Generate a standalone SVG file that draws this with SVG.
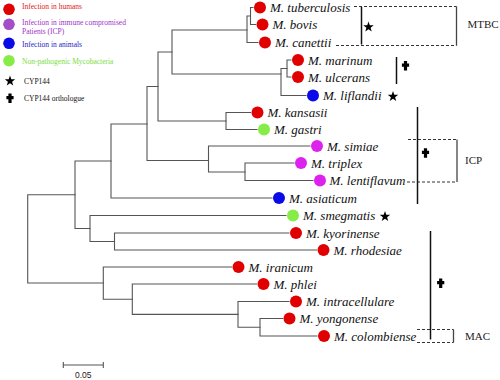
<svg xmlns="http://www.w3.org/2000/svg" xmlns:xlink="http://www.w3.org/1999/xlink" width="500" height="380" viewBox="0 0 500 380">
<style>
.br{stroke:#555;stroke-width:1.1;fill:none;stroke-linecap:square}
.sp{font-family:"Liberation Serif","Times New Roman",serif;font-style:italic;font-size:13px;fill:#111}
.lg{font-family:"Liberation Serif","Times New Roman",serif;font-size:7.5px}
.cl{font-family:"Liberation Serif","Times New Roman",serif;font-size:11px;fill:#222}
.dash{stroke:#333;stroke-width:1.2;stroke-dasharray:3,2;fill:none}
.side{stroke:#444;stroke-width:1.3;fill:none}
.mark{stroke:#111;stroke-width:1.5;fill:none}
.red{fill:#e00000}.blu{fill:#0a0ae8}.grn{fill:#86ec48}.mag{fill:#dd22ee}.pur{fill:#a44ec8}
</style>
<defs>
<polygon id="star" points="0,-5.5 1.29,-1.78 5.23,-1.7 2.09,0.68 3.23,4.45 0,2.2 -3.23,4.45 -2.09,0.68 -5.23,-1.7 -1.29,-1.78" fill="#000"/>
<path id="cross" d="M-1.6,-4.8H1.6V-2.3H3.6V0.9H1.6V4.8H-1.6V0.9H-3.6V-2.3H-1.6Z" fill="#000"/>
</defs>

<g id="legend">
<circle class="red" cx="9" cy="9.3" r="5.8"/>
<text class="lg" x="22" y="9" fill="#e02020">Infection in humans</text>
<circle class="pur" cx="9" cy="24.3" r="5.8"/>
<text class="lg" x="22" y="24.5" fill="#a033c8">Infection in immune compromised</text>
<text class="lg" x="22" y="33.5" fill="#a033c8">Patients (ICP)</text>
<circle class="blu" cx="9" cy="43.3" r="5.8"/>
<text class="lg" x="22" y="46.5" fill="#2323c8">Infection in animals</text>
<circle class="grn" cx="9" cy="60.7" r="5.8"/>
<text class="lg" x="22" y="64" fill="#78e040">Non-pathogenic Mycobacteria</text>
<use xlink:href="#star" href="#star" x="10" y="81"/>
<text class="lg" x="24" y="84" fill="#111">CYP144</text>
<use xlink:href="#cross" href="#cross" x="10" y="98.3"/>
<text class="lg" x="24" y="100.5" fill="#111">CYP144 orthologue</text>
</g>

<g id="connectors">
<path class="br" d="M250.5,7.5V24.5M250.5,7.5H253M250.5,24.5H255.5"/>
<path class="br" d="M247,16V42.5M247,16H250.5M247,42.5H258"/>
<path class="br" d="M287,60V77M287,60H291M287,77H291"/>
<path class="br" d="M281,68.5V95.5M281,68.5H287M281,95.5H306"/>
<path class="br" d="M172,30V74M172,30H247M172,74H281"/>
<path class="br" d="M226,112.5V129.5M226,112.5H250.5M226,129.5H257"/>
<path class="br" d="M158,52V121M158,52H172M158,121H226"/>
<path class="br" d="M245,163V180.5M245,163H294M245,180.5H313"/>
<path class="br" d="M208.5,146V172M208.5,146H310M208.5,172H245"/>
<path class="br" d="M147,86.5V160.5M147,86.5H158M147,160.5H208.5"/>
<path class="br" d="M111,124V198M111,124H147M111,198H272"/>
<path class="br" d="M114.5,233V250M114.5,233H289M114.5,250H316.5"/>
<path class="br" d="M90,215.5V241.5M90,215.5H286M90,241.5H114.5"/>
<path class="br" d="M75,161V228.5M75,161H111M75,228.5H90"/>
<path class="br" d="M260,318.5V336M260,318.5H282.5M260,336H317"/>
<path class="br" d="M238,301.5V327.3M238,301.5H289M238,327.3H260"/>
<path class="br" d="M132.3,284V314.4M132.3,284H256.5M132.3,314.4H238"/>
<path class="br" d="M103.3,267V299.2M103.3,267H231.5M103.3,299.2H132.3"/>
<path class="br" d="M27.7,194.8V283M27.7,194.8H75M27.7,283H103.3"/>
</g>

<g id="n-tuberculosis"><circle class="red" cx="260" cy="7.5" r="6"/><text class="sp" x="270" y="12">M. tuberculosis</text></g>
<g id="n-bovis"><circle class="red" cx="262.5" cy="24.5" r="6"/><text class="sp" x="272.5" y="29">M. bovis</text></g>
<g id="n-canettii"><circle class="red" cx="265" cy="42.5" r="6"/><text class="sp" x="275" y="47">M. canettii</text></g>
<g id="n-marinum"><circle class="red" cx="298" cy="60" r="6"/><text class="sp" x="308" y="64.5">M. marinum</text></g>
<g id="n-ulcerans"><circle class="red" cx="298" cy="77" r="6"/><text class="sp" x="308" y="81.5">M. ulcerans</text></g>
<g id="n-liflandii"><circle class="blu" cx="313" cy="95.5" r="6"/><text class="sp" x="323" y="100">M. liflandii</text><use xlink:href="#star" href="#star" x="393" y="96.5"/></g>
<g id="n-kansasii"><circle class="red" cx="257.5" cy="112.5" r="6"/><text class="sp" x="267.5" y="117">M. kansasii</text></g>
<g id="n-gastri"><circle class="grn" cx="264" cy="129.5" r="6"/><text class="sp" x="274" y="134">M. gastri</text></g>
<g id="n-simiae"><circle class="mag" cx="317" cy="146" r="6"/><text class="sp" x="327" y="150.5">M. simiae</text></g>
<g id="n-triplex"><circle class="mag" cx="301" cy="163" r="6"/><text class="sp" x="311" y="167.5">M. triplex</text></g>
<g id="n-lentiflavum"><circle class="mag" cx="320" cy="180.5" r="6"/><text class="sp" x="329.5" y="185">M. lentiflavum</text></g>
<g id="n-asiaticum"><circle class="blu" cx="279" cy="198" r="6"/><text class="sp" x="289" y="202.5">M. asiaticum</text></g>
<g id="n-smegmatis"><circle class="grn" cx="293" cy="215.5" r="6"/><text class="sp" x="303" y="220">M. smegmatis</text><use xlink:href="#star" href="#star" x="385" y="216.5"/></g>
<g id="n-kyorinense"><circle class="red" cx="296" cy="233" r="6"/><text class="sp" x="306" y="237.5">M. kyorinense</text></g>
<g id="n-rhodesiae"><circle class="red" cx="323.5" cy="250" r="6"/><text class="sp" x="333.5" y="254.5">M. rhodesiae</text></g>
<g id="n-iranicum"><circle class="red" cx="238.5" cy="267" r="6"/><text class="sp" x="248.5" y="271.5">M. iranicum</text></g>
<g id="n-phlei"><circle class="red" cx="263.5" cy="284" r="6"/><text class="sp" x="273.5" y="288.5">M. phlei</text></g>
<g id="n-intracellulare"><circle class="red" cx="296" cy="301.5" r="6"/><text class="sp" x="306" y="306">M. intracellulare</text></g>
<g id="n-yongonense"><circle class="red" cx="289.5" cy="318.5" r="6"/><text class="sp" x="299.5" y="323">M. yongonense</text></g>
<g id="n-colombiense"><circle class="red" cx="324" cy="336" r="6"/><text class="sp" x="334" y="340.5">M. colombiense</text></g>

<g id="MTBC">
<path class="dash" d="M354,6.5H456.5M336,45.5H456.5"/>
<path class="side" d="M456.5,6.5V45.5"/>
<path class="mark" d="M361.5,7V44.5"/>
<use xlink:href="#star" href="#star" x="368.5" y="27"/>
<text class="cl" x="467.5" y="28">MTBC</text>
</g>
<g id="marinum-group">
<path class="mark" d="M396.5,57V84"/>
<use xlink:href="#cross" href="#cross" x="405.5" y="65.8"/>
</g>
<g id="ICP">
<path class="dash" d="M408,139.5H457M407,182H457"/>
<path class="side" d="M457,139.5V182"/>
<path class="mark" d="M417.5,107V204"/>
<use xlink:href="#cross" href="#cross" x="425.5" y="153"/>
<text class="cl" x="465" y="163.5">ICP</text>
</g>
<g id="MAC">
<path class="dash" d="M417,329.5H453.5M417,342.5H453.5"/>
<path class="side" d="M453.5,329.5V342.5"/>
<path class="mark" d="M430.5,231V339.5"/>
<use xlink:href="#cross" href="#cross" x="440.7" y="283.3"/>
<text class="cl" x="465" y="339.5">MAC</text>
</g>

<g id="scalebar">
<path class="br" d="M63.3,365H103.3M63.3,362.5V367.5M103.3,362.5V367.5"/>
<text x="83.3" y="378" text-anchor="middle" font-family="Liberation Sans, Arial, sans-serif" font-size="8.5" fill="#222">0.05</text>
</g>
</svg>
